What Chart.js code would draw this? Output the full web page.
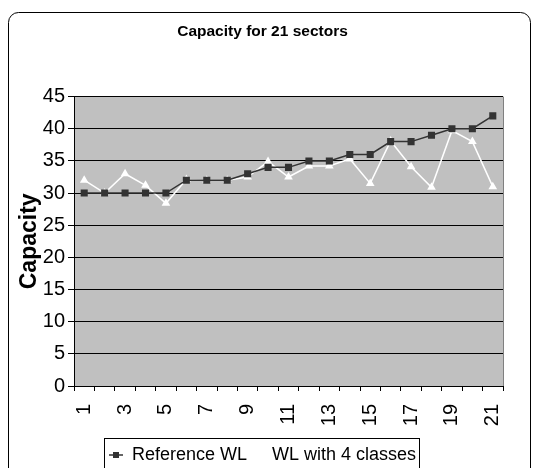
<!DOCTYPE html>
<html>
<head>
<meta charset="utf-8">
<script src="https://cdn.jsdelivr.net/npm/chart.js@4"></script>
<style>
html,body{margin:0;padding:0;background:#fff;}
#wrap{width:533px;height:468px;}
</style>
</head>
<body>
<div id="wrap"><canvas id="c" width="533" height="468"></canvas></div>
<script>
// ---- data ----
const categories = ['1','2','3','4','5','6','7','8','9','10','11','12','13','14','15','16','17','18','19','20','21'];
const referenceWL = [30,30,30,30,30,32,32,32,33,34,34,35,35,36,36,38,38,39,40,40,42];
const wl4classes = [32,30,33,31.2,28.4,32.1,32,32,32.5,34.9,32.5,34.2,34.2,35.3,31.5,38.1,34.1,30.9,39.7,38,31];
const yTicks = [0,5,10,15,20,25,30,35,40,45];
const seriesNames = ['Reference WL','WL with 4 classes'];
const chartTitle = 'Capacity for 21 sectors';
const yTitle = 'Capacity';

const FONT = '"Liberation Sans", Arial, sans-serif';

function markerCanvas(color, kind){
  const cv = document.createElement('canvas');
  cv.width = 14; cv.height = 10;
  const g = cv.getContext('2d');
  g.strokeStyle = color; g.lineWidth = 1.5;
  g.beginPath(); g.moveTo(0,5); g.lineTo(14,5); g.stroke();
  g.fillStyle = color;
  if (kind === 'rect') g.fillRect(4,2,6,6);
  else { g.beginPath(); g.moveTo(7,1); g.lineTo(11,8); g.lineTo(3,8); g.closePath(); g.fill(); }
  return cv;
}
const legendMarkers = [markerCanvas('#333333','rect'), markerCanvas('#ffffff','tri')];

const decor = {
  id: 'decor',
  beforeDraw(chart){
    const {ctx, chartArea:a} = chart;
    ctx.save();
    ctx.fillStyle = '#ffffff';
    ctx.fillRect(0,0,chart.width,chart.height);
    ctx.strokeStyle = '#000'; ctx.lineWidth = 1;
    ctx.beginPath();
    if (ctx.roundRect) ctx.roundRect(8.5, 12.5, 522, 520, 10); else ctx.rect(8.5, 12.5, 522, 520);
    ctx.stroke();
    ctx.fillStyle = '#c0c0c0';
    ctx.fillRect(a.left, a.top, a.right - a.left, a.bottom - a.top);
    ctx.restore();
  },
  beforeDatasetsDraw(chart){
    const {ctx, chartArea:a} = chart;
    ctx.save();
    ctx.strokeStyle = '#808080'; ctx.lineWidth = 1;
    ctx.beginPath();
    ctx.moveTo(Math.round(a.right)+0.5, a.top); ctx.lineTo(Math.round(a.right)+0.5, a.bottom);
    ctx.stroke();
    ctx.restore();
  },
  afterDraw(chart){
    const lg = chart.legend;
    if (!lg || !lg.legendHitBoxes || !lg.legendHitBoxes.length) return;
    const hb = lg.legendHitBoxes;
    const left = Math.min(...hb.map(h=>h.left)) - 5;
    const right = Math.max(...hb.map(h=>h.left + h.width)) + 3;
    const top = hb[0].top - 8;
    const ctx = chart.ctx;
    ctx.save();
    ctx.strokeStyle = '#000'; ctx.lineWidth = 1;
    ctx.strokeRect(Math.round(left)+0.5, Math.round(top)+0.5, Math.round(right-left), 60);
    ctx.restore();
  }
};

new Chart(document.getElementById('c'), {
  type: 'line',
  data: {
    labels: categories,
    datasets: [
      {
        label: seriesNames[0], data: referenceWL,
        borderColor: '#333333', backgroundColor: '#333333', borderWidth: 1.5,
        pointStyle: 'rect', pointRadius: 5, pointBorderWidth: 0,
        pointBackgroundColor: '#333333', tension: 0
      },
      {
        label: seriesNames[1], data: wl4classes,
        borderColor: '#ffffff', backgroundColor: '#ffffff', borderWidth: 1.5,
        pointStyle: 'triangle', pointRadius: 5, pointBorderWidth: 0,
        pointBackgroundColor: '#ffffff', tension: 0
      }
    ]
  },
  options: {
    responsive: false,
    animation: false,
    devicePixelRatio: 1,
    layout: { padding: { left: 22, right: 30, top: 0, bottom: -6 } },
    plugins: {
      title: {
        display: true, text: chartTitle, color: '#000',
        font: { family: FONT, size: 15.5, weight: 'bold' },
        padding: { top: 22, bottom: 56 }
      },
      legend: {
        position: 'bottom',
        labels: {
          color: '#000',
          font: { family: FONT, size: 18 },
          usePointStyle: true, pointStyleWidth: 14, boxHeight: 10, padding: 2,
          generateLabels(chart){
            const items = Chart.defaults.plugins.legend.labels.generateLabels(chart);
            items.forEach((it,i)=>{ it.pointStyle = legendMarkers[i]; });
            return items;
          }
        }
      },
      tooltip: { enabled: false }
    },
    scales: {
      x: {
        type: 'category', offset: true,
        grid: { offset: true, drawOnChartArea: false, drawTicks: true, tickLength: 5, color: '#000', lineWidth: 1 },
        border: { color: '#000', width: 1 },
        ticks: {
          color: '#000', autoSkip: false, maxRotation: 90, minRotation: 90, padding: 13,
          font: { family: FONT, size: 20 },
          callback(v, i){ return i % 2 === 0 ? categories[i] : ''; }
        },
        afterFit(s){ s.height = 58; }
      },
      y: {
        min: yTicks[0], max: yTicks[yTicks.length-1],
        afterBuildTicks(s){ s.ticks = yTicks.map(v=>({value:v})); },
        grid: { color: '#000', lineWidth: 1, drawTicks: true, tickLength: 6 },
        border: { color: '#000', width: 1 },
        ticks: {
          color: '#000', padding: 3,
          font: { family: FONT, size: 20 }
        },
        title: {
          display: true, text: yTitle, color: '#000',
          font: { family: FONT, size: 23, weight: 'bold' },
          padding: { top: -6, bottom: 0 }
        },
        afterFit(s){ s.width = 52; }
      }
    }
  },
  plugins: [decor]
});
</script>
</body>
</html>
